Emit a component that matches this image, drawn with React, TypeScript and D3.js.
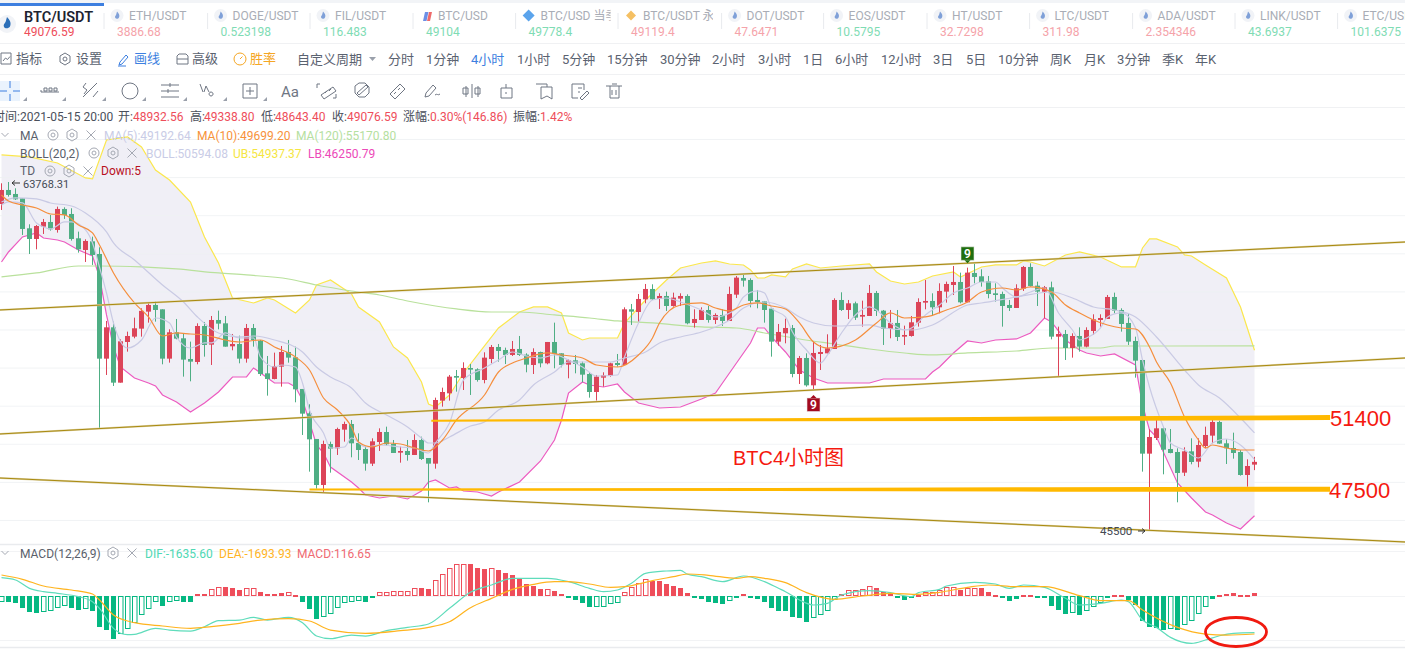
import * as d3 from "d3";

const W = 1405;
const H = 649;
const FONT = "Roboto, 'Noto Sans CJK SC', sans-serif";

// candles, 4h bars, oldest first
const opens = [
  62615,63350,63140,62913,61338,60778,61425,61670,61250,62353,
  62090,60813,60200,60655,59990,54495,56140,53235,55370,55650,
  56070,56963,57313,57085,54495,55878,55563,54478,54320,56210,
  55230,56525,56350,55143,55265,54495,56105,55440,53725,53428,
  54075,54845,54565,52903,51625,50278,47863,50015,49788,50768,
  51065,50068,49753,48983,50120,50645,50015,49560,49648,49438,
  50225,49280,48983,52290,52675,53585,53480,54005,53935,53375,
  54478,55108,54950,54688,55003,54705,54163,54845,54250,55370,
  54775,54180,54408,54250,53690,52745,53498,53585,54268,54163,
  57085,56945,57610,58153,57628,57785,57260,57645,57785,56368,
  56525,57050,56525,56788,56473,57855,58730,58625,57575,57505,
  57120,55388,55825,56105,53690,54530,53095,54740,54775,55003,
  57575,57050,57400,56700,56735,57943,57015,56053,56368,55650,
  55685,56385,57435,57523,57190,58013,58363,58520,57453,58993,
  58818,58555,57925,57890,57313,57155,58170,59308,58328,58013,
  58240,55650,55790,55055,55685,55125,55948,56525,56578,57733,
  57050,56368,55423,54425,49508,50330,50838,49753,49595,48510,
  49630,49088,49910,50453,51170,50050,49805,49595,48388,48932.56,
];
const highs = [
  63700,63768.31,63438,62913,61548,61513,61828,62038,62475,62440,
  62388,61163,60760,60900,60340,56473,56438,55510,55913,56648,
  57138,57453,57488,57085,56035,56578,55825,55388,56350,56420,
  56735,57015,56735,55790,55703,56315,56315,55475,54635,54810,
  55160,55475,55125,52903,52098,50278,50190,50138,50873,51188,
  51275,50575,49875,50313,50838,50925,50225,49875,50225,50523,
  50400,49280,52448,52973,53638,53900,54303,54215,53988,54828,
  55213,55265,55073,55423,55685,54775,55038,54863,55370,56385,
  54775,54460,54688,54338,53795,53638,53778,54285,54740,57190,
  57365,57890,58415,58398,57925,58013,57960,57925,57873,57085,
  57190,57260,56875,57085,58275,58835,58975,58713,58100,57523,
  57120,56315,56595,56263,54635,54775,55388,55213,55773,57663,
  57978,57575,57488,57540,58363,58048,57050,57050,57050,56228,
  56735,57663,58625,57925,58450,58538,59360,59010,59273,59500,
  59185,58835,58450,58013,57575,58398,59360,59500,58538,58310,
  58538,56175,56000,55825,56140,56140,56823,56823,57838,57960,
  57138,56840,55650,54425,50785,51275,50925,50803,49788,49840,
  50313,50313,50925,51275,51240,50260,50610,49700,49210,49338.8,
];
const lows = [
  62300,63000,62825,60988,59990,60235,61040,61215,61110,61828,
  60690,60060,59570,59413,50838,53638,53060,53235,54863,55563,
  55650,56385,56438,54198,54285,55510,53550,53305,54198,54600,
  54163,56035,55125,54933,54250,54285,55125,53585,52553,53410,
  53025,54285,52203,50488,48563,47670,47478,48510,49438,50138,
  49315,49175,48615,48860,49648,49928,49543,49035,49140,49438,
  49175,46953,48720,51975,52290,52763,52850,52588,53288,53200,
  54250,54338,54215,54635,54635,53778,53690,54040,54198,53988,
  54040,53463,53725,53253,52448,52290,53025,53550,54075,54163,
  56263,56438,57400,57575,57103,56998,57225,57260,56298,56123,
  56525,56385,56315,56210,56473,57680,58275,57190,57138,56385,
  54600,55178,55300,53515,53165,53025,52850,53900,54775,55003,
  56998,56578,56525,56175,56735,56735,55213,55563,55423,55213,
  55650,56175,57085,56735,56875,57435,57838,57400,57453,58450,
  58275,57663,57488,56175,56998,57155,58048,58275,57260,56613,
  55510,53550,54425,54548,54863,55090,55738,56175,56578,56875,
  55913,55213,53498,48563,45500,50225,48423,49525,46953,48335,
  48948,48790,49788,50050,50015,48965,49245,48353,47775,48643.4,
];
const closes = [
  63350,63088,62860,61303,60778,61460,61670,61285,62353,62038,
  60778,60235,60673,59938,54495,56140,53235,55405,55685,56088,
  57003,57313,57050,54495,55878,55545,54443,54338,56210,55213,
  56525,56333,55125,55265,54495,56105,55475,53690,53428,54110,
  54845,54548,52885,51608,50260,47863,50015,49770,50803,51065,
  50050,49700,48983,50155,50645,50000,49543,49648,49438,50225,
  49228,48983,52325,52745,53550,53498,54005,53918,53375,54548,
  55108,54898,54688,55003,54688,54180,54845,54250,55370,54740,
  54163,54408,54215,53655,52745,53550,53620,54250,54163,57085,
  56963,57628,58153,57610,57785,57260,57698,57785,56350,56578,
  57050,56525,56788,56473,57890,58748,58590,57523,57470,57050,
  55388,55895,56105,53690,54530,53095,54793,54845,55038,57575,
  57050,57400,56648,56788,57943,56998,56070,56368,55633,55738,
  56403,57470,57523,57190,58048,58415,58520,57453,59010,58783,
  58520,57890,57838,57260,57155,58188,59308,58310,58013,58240,
  55650,55790,55055,55685,55125,56000,56560,56630,57733,57015,
  56315,55388,54390,49508,50383,50838,49718,49543,48493,49630,
  49070,49963,50488,51170,50033,49788,49543,48388,48860,49076.59,
];

// indicator lines as [bar index, value]
const ub: [number, number][] = [
  [0,65188],[4,65083],[8,64768],[12,63980],[13,63928],[15,65975],[18,66133],[20,65608],[22,64400],[24,63875],
  [27,62720],[29,60883],[31,59518],[33,57680],[36,57418],[38,57680],[39,57575],[42,56893],[44,57575],[45,58363],
  [47,58625],[50,57890],[51,57208],[54,56420],[56,55108],[58,54530],[60,53270],[61,52115],[62,51958],[64,52588],
  [66,53743],[68,54688],[71,56105],[74,56945],[76,57208],[78,57208],[80,56893],[81,55843],[83,55475],[84,55580],
  [88,55580],[89,56368],[92,57575],[95,58625],[97,59255],[100,59518],[102,59623],[104,59465],[106,59413],[107,59150],
  [108,58730],[109,58730],[110,58888],[112,58783],[113,59203],[115,59465],[117,59255],[120,59360],[124,59465],[125,59045],
  [127,58573],[129,58415],[131,58520],[133,58835],[136,59045],[137,58783],[140,59308],[142,59413],[145,59413],[146,59623],
  [147,59570],[149,59360],[152,59938],[154,60095],[157,59833],[160,59308],[162,59308],[163,60305],[164,60778],[165,60778],
  [168,60358],[169,59938],[170,59885],[172,59413],[175,58730],[177,57208],[179,54937.37],
];
const lb: [number, number][] = [
  [0,59570],[1,60095],[3,60883],[5,61093],[6,60830],[8,60725],[9,60620],[11,60200],[13,59885],[14,58783],
  [15,56788],[16,55108],[17,54058],[19,53480],[21,53218],[22,53060],[23,52588],[25,52220],[27,51695],[29,52168],
  [31,52745],[33,53533],[35,53533],[36,54005],[38,53480],[39,53218],[41,53218],[42,53008],[43,52325],[44,51170],
  [45,49963],[46,49543],[47,48808],[50,48020],[51,47705],[52,47338],[54,47180],[56,47285],[58,47128],[60,47548],
  [61,48020],[62,48125],[64,47705],[65,47758],[66,47548],[68,47495],[70,47285],[71,47495],[74,48020],[77,49123],
  [79,50225],[80,51275],[81,52693],[83,53270],[84,53113],[86,53008],[88,53165],[89,52745],[91,52168],[94,51905],
  [97,51958],[100,52378],[102,52693],[103,53218],[105,54268],[107,55318],[108,56105],[109,56105],[110,55633],[112,54845],
  [114,53900],[116,53480],[118,53218],[124,53218],[126,53428],[132,53428],[133,53795],[134,54058],[136,54793],[138,55423],
  [140,55318],[142,55475],[145,55528],[147,55843],[149,56630],[150,56420],[152,55475],[154,54950],[155,54793],[157,54635],
  [159,54740],[162,54163],[163,52063],[164,50750],[165,50383],[168,47968],[170,47180],[172,46445],[173,46288],[175,45868],
  [177,45553],[179,46250.79],
];
const bollMid: [number, number][] = [
  [0,62720],[2,62930],[5,62878],[7,62668],[10,62510],[12,62143],[15,61145],[16,60568],[19,59675],[23,58363],
  [26,57470],[28,56683],[31,55843],[34,55633],[36,55685],[39,55475],[43,54845],[45,54058],[47,53533],[50,52955],
  [52,52168],[55,51538],[58,50908],[60,50330],[61,50068],[62,50068],[64,50383],[67,50960],[69,51170],[71,51800],
  [74,52325],[76,53113],[79,53795],[81,54320],[83,54320],[87,54320],[89,54530],[92,54845],[94,55318],[97,55633],
  [100,55895],[102,56158],[104,56525],[106,57155],[109,57470],[112,57155],[114,56683],[116,56368],[119,56210],[124,56263],
  [126,56105],[130,56000],[133,56263],[138,57313],[140,57418],[145,57733],[150,57995],[153,57680],[156,57208],[159,57050],
  [162,56683],[165,55633],[169,53900],[171,53113],[174,52430],[177,51380],[179,50594.08],
];
const ma5: [number, number][] = [
  [0,62563],[1,62720],[3,62668],[5,61618],[6,61408],[7,61303],[9,61670],[10,61670],[12,61250],[13,60568],
  [14,59308],[15,57943],[16,56368],[18,55055],[20,55475],[22,56630],[24,56368],[25,55633],[27,55055],[29,55318],
  [30,55318],[32,55843],[34,55580],[36,55580],[37,54583],[39,54058],[40,54163],[42,54058],[43,53218],[44,51800],
  [46,50593],[47,49805],[49,49858],[50,50330],[52,49858],[54,49963],[57,49858],[59,49805],[61,49543],[62,50068],
  [64,51118],[66,53375],[69,54005],[71,54425],[73,54845],[75,54635],[77,54530],[79,54688],[81,54425],[83,54058],
  [85,53585],[88,53638],[89,54583],[91,56368],[93,57575],[95,57680],[97,57470],[100,57050],[102,56683],[103,56735],
  [105,57155],[106,57733],[108,58048],[109,57943],[110,57155],[112,56683],[113,55895],[115,54950],[117,54268],[118,54688],
  [120,55843],[122,56788],[124,57208],[125,57050],[127,56368],[129,56000],[130,56105],[132,56788],[134,57313],[136,57943],
  [138,58205],[140,58520],[142,58520],[143,58205],[145,57733],[147,57995],[149,58205],[151,56893],[153,56000],[154,55475],
  [155,55580],[157,56105],[158,56683],[160,56893],[162,56105],[163,54425],[164,53008],[166,50908],[167,50068],[169,49700],
  [171,49280],[173,50068],[175,50278],[177,49963],[179,49192.64],
];
const ma10: [number, number][] = [
  [0,63088],[1,62773],[3,62563],[5,62405],[7,62090],[9,62038],[11,61513],[13,61093],[14,60463],[16,58993],
  [19,57418],[21,56683],[23,55685],[25,55843],[27,55790],[29,55738],[32,55475],[34,55370],[37,55475],[39,55108],
  [42,54583],[44,53900],[46,52430],[48,51800],[50,50908],[51,50120],[53,49858],[55,50068],[57,50015],[59,49805],
  [61,49648],[63,50225],[65,51275],[69,52588],[71,53795],[73,54268],[75,54530],[78,54793],[80,54688],[83,54530],
  [85,54163],[88,54058],[91,54688],[93,55580],[94,56368],[97,57313],[100,57418],[102,57155],[104,56998],[106,57313],
  [108,57418],[110,57260],[112,57103],[114,56368],[116,55370],[118,55055],[122,55475],[125,56368],[127,56893],[129,56630],
  [132,56683],[135,57050],[138,57470],[140,57995],[143,58205],[145,58100],[147,58258],[150,57995],[152,57313],[154,56893],
  [156,56525],[158,56263],[160,56105],[162,56053],[164,55108],[165,54320],[167,53218],[169,51433],[171,50225],[172,49805],
  [173,49963],[175,49805],[177,49700],[179,49699.2],
];
const ma120: [number, number][] = [
  [0,58783],[5,58993],[11,59360],[14,59360],[20,59308],[25,59203],[31,58993],[35,58888],[41,58678],[45,58363],
  [50,58048],[54,57838],[58,57523],[62,57260],[65,57103],[70,56945],[74,56945],[79,56788],[84,56630],[88,56473],
  [93,56368],[100,56158],[105,56105],[109,55843],[114,55528],[119,55265],[124,55003],[129,54793],[133,54688],[138,54793],
  [145,54898],[150,55055],[157,55055],[159,55160],[167,55160],[179,55170.8],
];

// macd histogram, one per bar
const macdBars = [
  -268,-283,-297,-520,-699,-744,-699,-684,-520,-431,
  -520,-625,-595,-654,-1368,-1517,-1903,-1710,-1487,-1219,
  -833,-580,-253,-431,-283,-223,-253,-260,74,70,
  297,416,387,372,268,372,375,164,74,70,
  119,164,45,-253,-565,-1011,-922,-818,-550,-327,
  -253,-208,-268,-59,164,193,208,223,238,372,
  342,297,699,967,1234,1413,1428,1420,1249,1219,
  1249,1160,1026,937,758,535,446,312,318,223,
  89,-74,-178,-312,-491,-480,-476,-342,-297,164,
  387,565,744,684,669,535,446,357,134,-89,
  -134,-268,-312,-357,-208,-45,89,-45,-134,-268,
  -535,-654,-660,-937,-981,-1160,-967,-833,-654,-178,
  74,253,260,297,431,357,178,104,-74,-178,
  -104,59,164,178,268,387,416,283,357,372,
  342,164,59,-104,-208,-149,59,30,-74,-80,
  -431,-610,-788,-773,-848,-684,-506,-327,-59,30,
  45,-178,-401,-1115,-1383,-1442,-1517,-1457,-1517,-1279,
  -1100,-788,-476,-119,45,104,119,59,62,116.65,
];
const dif: [number, number][] = [
  [0,818],[2,714],[4,342],[6,193],[8,119],[11,-30],[13,-253],[14,-550],[16,-1442],[18,-1725],
  [19,-1710],[22,-1442],[24,-1517],[27,-1561],[29,-1368],[31,-1100],[34,-1071],[36,-952],[38,-1071],[41,-952],
  [43,-1190],[45,-1784],[47,-1903],[50,-1740],[52,-1784],[55,-1546],[58,-1398],[61,-1249],[64,-550],[67,164],
  [70,491],[73,788],[76,788],[78,788],[81,639],[84,342],[86,193],[88,268],[90,565],[92,1011],
  [95,1115],[97,1145],[98,967],[100,862],[103,639],[106,892],[109,639],[111,342],[112,193],[114,-178],
  [116,-401],[118,-327],[120,45],[124,238],[127,149],[130,-30],[131,149],[134,297],[135,446],[139,610],
  [142,535],[144,342],[146,491],[149,387],[152,-104],[154,-401],[157,-327],[160,-178],[161,-253],[163,-1071],
  [165,-1398],[167,-1844],[170,-2112],[172,-1963],[174,-1770],[176,-1665],[179,-1635.6],
];
const dea: [number, number][] = [
  [0,937],[3,744],[6,446],[10,268],[13,89],[14,-178],[16,-848],[19,-1190],[23,-1338],[27,-1442],
  [30,-1368],[34,-1219],[37,-1071],[41,-1011],[44,-1115],[47,-1517],[52,-1665],[57,-1546],[61,-1398],[64,-1145],
  [67,-520],[70,-104],[73,297],[76,520],[79,639],[81,639],[84,535],[87,387],[89,416],[93,684],
  [96,862],[98,981],[101,922],[105,788],[107,862],[109,788],[112,595],[115,149],[119,-149],[123,0],
  [127,119],[131,74],[134,164],[138,387],[141,491],[145,416],[149,416],[154,15],[157,-208],[161,-208],
  [163,-625],[168,-1398],[172,-1695],[175,-1740],[179,-1693.93],
];

// hand-drawn overlays: [bar index, price]
const channelTop: [number, number][] = [[-0.3, 57050], [200.6, 60620]];
const channelMid: [number, number][] = [[-0.3, 50540], [200.6, 54530]];
const channelLow: [number, number][] = [[-0.3, 48230], [200.6, 44870]];
const resistance = [
  { i: 61.4, p: 51240, w: 2 }, { i: 110, p: 51290, w: 3 }, { i: 150, p: 51340, w: 4.5 }, { i: 189.8, p: 51400, w: 5 },
];
const support = [
  { i: 44, p: 47620, w: 2 }, { i: 110, p: 47625, w: 3 }, { i: 150, p: 47630, w: 4.5 }, { i: 189.8, p: 47640, w: 5 },
];

const gridPrices = d3.range(46000, 66001, 2000);

const tickerNames = ["ETH/USDT","DOGE/USDT","FIL/USDT","BTC/USD","BTC/USD 当季","BTC/USDT 永续","DOT/USDT","EOS/USDT","HT/USDT","LTC/USDT","ADA/USDT","LINK/USDT","ETC/USDT"];
const tickerPrices = ["3886.68","0.523198","116.483","49104","49778.4","49119.4","47.6471","10.5795","32.7298","311.98","2.354346","43.6937","101.6375"];
const tickerUp = [true,false,false,false,false,true,true,false,true,true,true,false,false];
const tickerSeps = [104,207.6,310,413,515.6,618,721.6,823.6,927,1029.6,1132.6,1235,1337.6];

const menuLabels = ["指标","设置","画线","高级","胜率"];
const menuXs = [16,76,134,192,250];
const periodLabels = ["自定义周期","分时","1分钟","4小时","1小时","5分钟","15分钟","30分钟","2小时","3小时","1日","6小时","12小时","3日","5日","10分钟","周K","月K","3分钟","季K","年K"];
const periodXs = [297,388,426,471,517,562,607,660,712,758,803,835,881,933,966,998,1050,1084,1117,1162,1195];

const x = d3.scaleLinear().domain([0, 179]).range([1.5, 1254.5]);
const y = d3.scaleLinear().domain([45500, 63768.31]).range([530, 182]);
const yMacd = d3.scaleLinear().domain([0, -1635.6]).range([596, 632.7]);

const bandLine = d3.line<[number, number]>().x((d) => x(d[0])).y((d) => y(d[1]));
const priceLine = d3.line<[number, number]>().x((d) => x(d[0])).y((d) => y(d[1])).curve(d3.curveMonotoneX);
const macdLine = d3.line<[number, number]>().x((d) => x(d[0])).y((d) => yMacd(d[1])).curve(d3.curveMonotoneX);
const thick = d3.area<{ i: number; p: number; w: number }>()
  .x((d) => x(d.i))
  .y0((d) => y(d.p) - d.w / 2)
  .y1((d) => y(d.p) + d.w / 2);

const UP = "#dc4458";
const DOWN = "#4fae84";
const GOLD = "#a98a10";
const ICON = "#6f7683";
const SOFT = "#a5a9b3";

function Flame({ cx, cy }: { cx: number; cy: number }) {
  return (
    <g>
      <circle cx={cx} cy={cy} r={6.5} fill="#f1f3f7" />
      <path d={`M${cx} ${cy - 4}c2 2 3 4 2 6c-.6 1.5-3 1.8-3.8.3c-.6-1.3.4-2 .9-3c.4-.9.5-2 .9-3.3z`} fill="#7fa0d8" />
    </g>
  );
}

function Eye({ cx, cy }: { cx: number; cy: number }) {
  return (
    <g fill="none" stroke={SOFT}>
      <circle cx={cx} cy={cy} r={5} />
      <circle cx={cx} cy={cy} r={2} />
    </g>
  );
}

function Gear({ cx, cy, color = SOFT }: { cx: number; cy: number; color?: string }) {
  return (
    <g fill="none" stroke={color}>
      <path d={`M${cx} ${cy - 6}l5 3v6l-5 3l-5-3v-6z`} />
      <circle cx={cx} cy={cy} r={2} />
    </g>
  );
}

function Cross({ cx, cy }: { cx: number; cy: number }) {
  return <path d={`M${cx - 4.5} ${cy - 4.5}l9 9M${cx + 4.5} ${cy - 4.5}l-9 9`} stroke={SOFT} fill="none" />;
}

function Chevron({ cx, cy }: { cx: number; cy: number }) {
  return <path d={`M${cx - 3.5} ${cy - 2}l3.5 3.5l3.5-3.5`} stroke={SOFT} fill="none" />;
}

function TickerRow() {
  return (
    <g fontFamily={FONT}>
      <rect x={0} y={0} width={W} height={3} fill="#f2f4f7" />
      <rect x={0} y={3} width={104} height={3} fill="#3d7fe0" />
      <circle cx={7} cy={24} r={9} fill="#f1f3f7" />
      <path d="M7 17c3 3 4.5 6 3 9.500c-1 2-5 2.500-6 .5c-1-2 .5-3.500 1.500-5c.6-1.300.8-3 1.500-5z" fill="#2c6fb8" />
      <text x={24} y={22} fontSize={14.5} fontWeight={600} fill="#1d2330">BTC/USDT</text>
      <text x={24} y={36} fontSize={12} fill="#ee4d5a">49076.59</text>
      {tickerNames.map((name, i) => {
        const sx = tickerSeps[i];
        return (
          <g key={name}>
            <clipPath id={`tk${i}`}><rect x={sx} y={4} width={95} height={38} /></clipPath>
            <line x1={sx} x2={sx} y1={13} y2={29} stroke="#e8eaee" />
            {i === 3 ? (
              <g>
                <path d={`M${sx + 10} 21l2-9h3.500l-2 9z`} fill="#6c8fe6" />
                <path d={`M${sx + 14} 21l2-9h3l-2 9z`} fill="#ee6a6a" />
              </g>
            ) : i === 4 ? (
              <path d={`M${sx + 13} ${9.500}l6 6l-6 6l-6-6z`} fill="#5ba4ec" />
            ) : i === 5 ? (
              <path d={`M${sx + 13} ${10.500}l5 5l-5 5l-5-5z`} fill="#f5c063" />
            ) : (
              <Flame cx={sx + 13} cy={15.5} />
            )}
            <text x={sx + 25} y={20} fontSize={12} fill="#a9adb6" clipPath={`url(#tk${i})`}>{name}</text>
            <text x={sx + 13} y={36} fontSize={12} fill={tickerUp[i] ? "#f5a3aa" : "#7fdcb4"}>{tickerPrices[i]}</text>
          </g>
        );
      })}
      <line x1={0} x2={W} y1={43.5} y2={43.5} stroke="#f0f1f3" />
    </g>
  );
}

function MenuRow() {
  return (
    <g fontFamily={FONT} fontSize={13}>
      {menuLabels.map((t, i) => (
        <text key={t} x={menuXs[i]} y={63} fill={i === 2 ? "#3d7fe0" : i === 4 ? "#f5a623" : "#5a6270"}>{t}</text>
      ))}
      <path d="M1 53h10v11h-10zM3 61l2.500-3l2 1.500l2.500-3" fill="none" stroke={ICON} />
      <Gear cx={65} cy={59} color={ICON} />
      <path d="M119 65l1-3l6-7l2 2l-6 7zM118 66h8" fill="none" stroke="#3d7fe0" />
      <path d="M177 64v-8l2-2h7l2 2v8zM177 59h11" fill="none" stroke={ICON} />
      <circle cx={240} cy={59} r={6} fill="none" stroke="#f5a623" />
      <path d="M240 59l2.500-2.500" stroke="#f5a623" fill="none" />
      {periodLabels.map((t, i) => (
        <text key={t} x={periodXs[i]} y={64} fill={i === 3 ? "#3d7fe0" : "#5a6270"}>{t}</text>
      ))}
      <path d="M369 57h7l-3.500 4z" fill="#9aa0ab" />
      <line x1={0} x2={W} y1={74.5} y2={74.5} stroke="#f0f1f3" />
    </g>
  );
}

function ToolRow() {
  const corners = [27, 66, 106, 146, 187, 227, 267];
  return (
    <g fill="none" stroke={ICON} fontFamily={FONT}>
      <rect x={0} y={81} width={20} height={20} fill="#eaf3fd" stroke="none" />
      <path d="M0 91h7M13 91h7M10 81v7M10 94v7" stroke="#3d7fe0" />
      {corners.map((cx) => <path key={cx} d={`M${cx - 4} 101l4-4v4z`} fill="#9aa0ab" stroke="none" />)}
      <path d="M41 92h18M41 92v-2M44 88h3v3h-3zM49 88h3v3h-3zM54 88h3v3h-3z" />
      <path d="M83 97l14-14M86 83l-3 4l4 3l-3 4M93 97l5-6" />
      <circle cx={130} cy={91} r={8} />
      <path d="M161 85h18M161 91h18M161 97h18M170 83v4M168 89v4" />
      <path d="M200 84l3 8M204 92l2-6l3 6M211 92a2 2 0 1 0 .1 0" />
      <path d="M243 84h14v14h-14zM250 87v8M246 91h8" />
      <text x={281} y={97} fontSize={15} fill={ICON} stroke="none">Aa</text>
      <path d="M320 84h-3v4M333 98h3v-4M321 95l12-8l3 4l-12 8zM325 93l2-2M329 91l2-2" />
      <path d="M355 86l4-3h6l4 4v6l-4 4h-6l-4-4zM357 93l9-8l2 2l-9 8z" />
      <path d="M390 94l10-10l5 5l-10 10zM394 94l2-2M398 90l2-2" />
      <path d="M425 97l1-4l7-8l3 3l-7 8zM435 95c2-2 3 1 5-1" />
      <path d="M466 86v11M472 84v14M478 86v11M463 88h5v6h-5zM475 88h5v6h-5z" />
      <path d="M501 88h11v10h-11zM506 84v4M506 92v2" />
      <path d="M536 84h11v3M541 87h11v12l-5-3l-6 3z" />
      <path d="M572 84h12v6M572 84v14h6M578 88h4M578 92h2M580 98l7-7l2 2l-7 7z" />
      <path d="M606 86h16M610 86v12h9v-12M612 84h5M612 90v5M616 90v5" />
      <line x1={0} x2={W} y1={107.5} y2={107.5} stroke="#f0f1f3" />
    </g>
  );
}

function Legends() {
  return (
    <g fontFamily={FONT} fontSize={12}>
      <text x={-7} y={121} fill="#4a4f5b">时间:2021-05-15 20:00</text>
      <text y={121} fill="#4a4f5b">
        <tspan x={118}>开:</tspan><tspan x={190}>高:</tspan><tspan x={261}>低:</tspan><tspan x={332}>收:</tspan><tspan x={403}>涨幅:</tspan><tspan x={513}>振幅:</tspan>
      </text>
      <text y={121} fill="#ee4d5a">
        <tspan x={133}>48932.56</tspan><tspan x={204}>49338.80</tspan><tspan x={275}>48643.40</tspan><tspan x={347}>49076.59</tspan><tspan x={430}>0.30%(146.86)</tspan><tspan x={540}>1.42%</tspan>
      </text>

      <Chevron cx={5} cy={135} />
      <text x={20} y={140} fill="#5a5f6b">MA</text>
      <Eye cx={53} cy={135} /><Gear cx={72} cy={135} /><Cross cx={91} cy={135} />
      <text x={104} y={140} fill="#c9cce6">MA(5):49192.64</text>
      <text x={197} y={140} fill="#f7923a">MA(10):49699.20</text>
      <text x={296} y={140} fill="#b5e0a0">MA(120):55170.80</text>

      <text x={20} y={158} fill="#5a5f6b">BOLL(20,2)</text>
      <Eye cx={94} cy={153} /><Gear cx={113} cy={153} /><Cross cx={132} cy={153} />
      <text x={146} y={158} fill="#c9cce6">BOLL:50594.08</text>
      <text x={233} y={158} fill="#f5e642">UB:54937.37</text>
      <text x={308} y={158} fill="#ec49b8">LB:46250.79</text>

      <text x={20} y={175} fill="#5a5f6b">TD</text>
      <Eye cx={50} cy={171} /><Gear cx={69} cy={171} /><Cross cx={88} cy={171} />
      <text x={101} y={175} fill="#b8101e">Down:5</text>

      <text x={23} y={187.5} fill="#444a55" fontSize={11}>63768.31</text>
      <path d="M12 183h8M12 183l3-2.500M12 183l3 2.500" fill="none" stroke="#333" />
      <text x={1100} y={535} fill="#444a55" fontSize={11.5}>45500</text>
      <path d="M1138 531h7M1145 531l-3-2.500M1145 531l-3 2.500" fill="none" stroke="#333" />
    </g>
  );
}

function TdMarker({ i, p, fill, below }: { i: number; p: number; fill: string; below: boolean }) {
  const cx = x(i);
  const top = y(p);
  const by = below ? top + 8 : top - 16.5;
  return (
    <g>
      <rect x={cx - 6.5} y={by} width={13} height={13.5} fill={fill} stroke="#e8e8e8" strokeOpacity={0.6} />
      <path d={below ? `M${cx - 3} ${by}l3-3l3 3z` : `M${cx - 3} ${by + 13.5}l3 3l3-3z`} fill={fill} />
      <text x={cx} y={by + 11.5} textAnchor="middle" fontSize={12} fontWeight={600} fill="#fff" fontFamily={FONT}>9</text>
    </g>
  );
}

function PricePane() {
  // band polygon: upper edge left to right, lower edge back
  const bandPath = (bandLine(ub) ?? "") + "L" + (bandLine([...lb].reverse()) ?? "").slice(1) + "Z";
  return (
    <g>
      <path d={bandPath} fill="#f0eff6" />
      {gridPrices.map((p) => (
        <line key={p} x1={0} x2={W} y1={y(p)} y2={y(p)} stroke="#eef0f3" strokeOpacity={0.8} />
      ))}
      <path d={bandLine(ub) ?? ""} fill="none" stroke="#fbe74d" strokeWidth={1.2} />
      <path d={bandLine(lb) ?? ""} fill="none" stroke="#ec5bc0" strokeWidth={1.2} />
      <path d={priceLine(ma120) ?? ""} fill="none" stroke="#b9e19c" strokeWidth={1.2} />
      {opens.map((o, i) => {
        const c = closes[i];
        const color = c >= o ? UP : DOWN;
        const top = y(Math.max(o, c));
        const bottom = y(Math.min(o, c));
        return (
          <g key={i}>
            <line x1={x(i)} x2={x(i)} y1={y(highs[i])} y2={y(lows[i])} stroke={color} strokeWidth={1} />
            <rect x={x(i) - 2.5} y={top} width={5} height={Math.max(1, bottom - top)} fill={color} />
          </g>
        );
      })}
      <path d={priceLine(bollMid) ?? ""} fill="none" stroke="#c9cae4" strokeWidth={1.2} />
      <path d={priceLine(ma5) ?? ""} fill="none" stroke="#c9cae4" strokeWidth={1.2} />
      <path d={priceLine(ma10) ?? ""} fill="none" stroke="#f58e3c" strokeWidth={1.2} />
      {[channelTop, channelMid, channelLow].map((seg, k) => (
        <g key={k}>
          <path d={bandLine(seg) ?? ""} fill="none" stroke="#ded3a8" strokeWidth={2} />
          <path d={bandLine(seg) ?? ""} fill="none" stroke={GOLD} strokeWidth={1} />
        </g>
      ))}
      <path d={thick(resistance) ?? ""} fill="#ffb900" />
      <path d={thick(support) ?? ""} fill="#ffb900" />
      <TdMarker i={138} p={59500} fill="#1f6e0e" below={false} />
      <TdMarker i={116} p={52850} fill="#a30a1e" below={true} />
      <g fontFamily="'Liberation Sans', 'Noto Sans CJK SC', sans-serif" fill="#f5190f">
        <text x={1330} y={426} fontSize={22}>51400</text>
        <text x={1329} y={498} fontSize={22}>47500</text>
        <text x={733} y={465} fontSize={20}>BTC4小时图</text>
      </g>
    </g>
  );
}

function MacdPane() {
  return (
    <g>
      <line x1={0} x2={W} y1={544.5} y2={544.5} stroke="#e9ebee" strokeWidth={1.5} />
      <line x1={0} x2={W} y1={551.5} y2={551.5} stroke="#f2f3f5" />
      <line x1={0} x2={W} y1={596.5} y2={596.5} stroke="#f2f3f5" />
      <line x1={0} x2={W} y1={640.5} y2={640.5} stroke="#f2f3f5" />
      <line x1={0} x2={W} y1={647.5} y2={647.5} stroke="#e9ebee" strokeWidth={1.5} />
      <g fontFamily={FONT} fontSize={12}>
        <Chevron cx={5} cy={553} />
        <text x={20} y={558} fill="#5a5f6b">MACD(12,26,9)</text>
        <Gear cx={113} cy={553} /><Cross cx={132} cy={553} />
        <text x={145} y={558} fill="#4fd8b4">DIF:-1635.60</text>
        <text x={219} y={558} fill="#ffb41f">DEA:-1693.93</text>
        <text x={297} y={558} fill="#ef6a73">MACD:116.65</text>
      </g>
      {macdBars.map((v, i) => {
        const color = v >= 0 ? "#ee4d5a" : "#05b882";
        const y0 = Math.round(yMacd(Math.max(v, 0)));
        const y1 = Math.round(yMacd(Math.min(v, 0)));
        // bars growing towards zero from the previous one are drawn hollow
        const hollow = i === 0 || v >= macdBars[i - 1];
        const h = Math.max(2, y1 - y0);
        return hollow && h > 3 ? (
          <rect key={i} x={x(i) - 2} y={y0 + 0.5} width={4.5} height={h - 1} fill="#fff" stroke={color} />
        ) : (
          <rect key={i} x={x(i) - 2.5} y={y0} width={5} height={h} fill={color} />
        );
      })}
      <path d={macdLine(dif) ?? ""} fill="none" stroke="#5fdcbb" strokeWidth={1.2} />
      <path d={macdLine(dea) ?? ""} fill="none" stroke="#ffb41f" strokeWidth={1.2} />
      <ellipse cx={1236} cy={632} rx={30.5} ry={14.5} fill="none" stroke="#f01a10" strokeWidth={2.8} />
    </g>
  );
}

export default function App() {
  return (
    <svg
      width={W}
      height={H}
      viewBox={`0 0 ${W} ${H}`}
      style={{ position: "absolute", left: 0, top: 0, display: "block", background: "#fff" }}
    >
      <PricePane />
      <TickerRow />
      <MenuRow />
      <ToolRow />
      <Legends />
      <MacdPane />
    </svg>
  );
}
